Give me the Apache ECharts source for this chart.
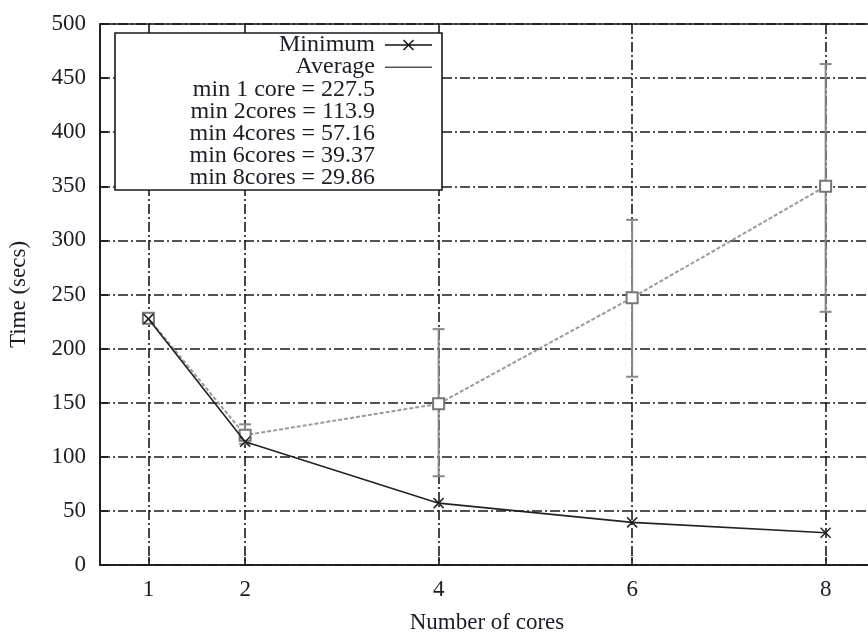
<!DOCTYPE html>
<html>
<head>
<meta charset="utf-8">
<script src="https://cdn.jsdelivr.net/npm/echarts@6/dist/echarts.min.js"></script>
<style>html,body{margin:0;padding:0;background:#fff;}#c{width:868px;height:635px;}</style>
</head>
<body>
<div id="c"></div>
<script>
// ---- data ----
const cores = [1, 2, 4, 6, 8];
const minimumTimes = [227.5, 113.9, 57.16, 39.37, 29.86];
const averageTimes = [228, 120, 149, 247, 350];
const averageLow = [225, 112, 82, 174, 234];
const averageHigh = [231, 130, 218, 319, 463];
const xTickValues = [1, 2, 4, 6, 8];
const legendLines = ['min 1 core = 227.5', 'min 2cores = 113.9', 'min 4cores = 57.16', 'min 6cores = 39.37', 'min 8cores = 29.86'];

const FONT = '"Liberation Serif", "DejaVu Serif", serif';
const TXT = '#1c1c28';
const gridDash = { color: '#1a1a1a', width: 1.6, type: [10, 3, 2, 3] };

const chart = echarts.init(document.getElementById('c'), null, { renderer: 'canvas' });

const legendX = 115, legendY = 33, legendW = 327, legendH = 157;
const textRight = 375, lineStep = 22.2, firstLine = 45;
const Z = 100;
const legendChildren = [
  { type: 'rect', z: Z, shape: { x: legendX, y: legendY, width: legendW, height: legendH },
    style: { fill: '#fff', stroke: '#1a1a1a', lineWidth: 1.6 } }
];
const allLegend = ['Minimum', 'Average'].concat(legendLines);
allLegend.forEach((t, i) => {
  legendChildren.push({ type: 'text', z: Z + 1, x: textRight, y: firstLine + i * lineStep,
    style: { text: t, font: '24px ' + FONT, fill: TXT, align: 'right', verticalAlign: 'middle' } });
});
// samples
const sx1 = 385, sx2 = 432, sm = (sx1 + sx2) / 2;
legendChildren.push({ type: 'line', z: Z + 1, shape: { x1: sx1, y1: firstLine, x2: sx2, y2: firstLine }, style: { stroke: '#111', lineWidth: 1.5 } });
legendChildren.push({ type: 'line', z: Z + 1, shape: { x1: sm - 5, y1: firstLine - 5, x2: sm + 5, y2: firstLine + 5 }, style: { stroke: '#111', lineWidth: 1.5 } });
legendChildren.push({ type: 'line', z: Z + 1, shape: { x1: sm - 5, y1: firstLine + 5, x2: sm + 5, y2: firstLine - 5 }, style: { stroke: '#111', lineWidth: 1.5 } });
legendChildren.push({ type: 'line', z: Z + 1, shape: { x1: sx1, y1: firstLine + lineStep, x2: sx2, y2: firstLine + lineStep }, style: { stroke: '#555', lineWidth: 1.5 } });

const option = {
  backgroundColor: '#fff',
  animation: false,
  grid: { left: 100, top: 24, right: -6, bottom: 70, outerBoundsMode: 'none', containLabel: false,
          show: true, borderColor: '#1a1a1a', borderWidth: 1.6, backgroundColor: 'transparent' },
  xAxis: {
    type: 'value', min: 0.5, max: 8.5,
    name: 'Number of cores', nameLocation: 'middle', nameGap: 46,
    nameTextStyle: { fontFamily: FONT, fontSize: 23, color: TXT },
    axisLine: { show: true, lineStyle: { color: '#1a1a1a', width: 1.6 } },
    axisTick: { show: true, inside: true, length: 8, customValues: xTickValues, lineStyle: { color: '#1a1a1a', width: 1.6 } },
    axisLabel: { customValues: xTickValues, fontFamily: FONT, fontSize: 23, color: TXT, margin: 13 },
    splitLine: { show: true, lineStyle: gridDash }
  },
  yAxis: {
    type: 'value', min: 0, max: 500, interval: 50,
    name: 'Time (secs)', nameLocation: 'middle', nameGap: 70, nameRotate: 90,
    nameTextStyle: { fontFamily: FONT, fontSize: 23, color: TXT },
    axisLine: { show: true, lineStyle: { color: '#1a1a1a', width: 1.6 } },
    axisTick: { show: true, inside: true, length: 8, lineStyle: { color: '#1a1a1a', width: 1.6 } },
    axisLabel: { fontFamily: FONT, fontSize: 23, color: TXT, margin: 14 },
    splitLine: { show: true, lineStyle: gridDash }
  },
  series: [
    {
      name: 'Average error', type: 'custom', z: 3,
      encode: { x: 0, y: [1, 2] },
      data: cores.map((c, i) => [c, averageLow[i], averageHigh[i]]),
      renderItem: function (params, api) {
        const lo = api.coord([api.value(0), api.value(1)]);
        const hi = api.coord([api.value(0), api.value(2)]);
        const w = 6;
        const st = { stroke: '#888', lineWidth: 2 };
        return { type: 'group', children: [
          { type: 'line', shape: { x1: lo[0], y1: lo[1], x2: hi[0], y2: hi[1] }, style: st },
          { type: 'line', shape: { x1: lo[0] - w, y1: lo[1], x2: lo[0] + w, y2: lo[1] }, style: st },
          { type: 'line', shape: { x1: hi[0] - w, y1: hi[1], x2: hi[0] + w, y2: hi[1] }, style: st }
        ] };
      }
    },
    {
      name: 'Average', type: 'line', z: 4,
      data: cores.map((c, i) => [c, averageTimes[i]]),
      symbol: 'emptyRect', symbolSize: 11,
      lineStyle: { color: '#9a9a9a', width: 2, type: [4, 2] },
      itemStyle: { color: '#777', borderColor: '#777', borderWidth: 1.5 }
    },
    {
      name: 'Minimum', type: 'line', z: 5,
      data: cores.map((c, i) => [c, minimumTimes[i]]),
      symbol: 'path://M0,0L10,10M10,0L0,10', symbolSize: 10,
      lineStyle: { color: '#222', width: 1.6 },
      itemStyle: { color: '#222', borderColor: '#222', borderWidth: 1.5 }
    }
  ],
  graphic: [{ type: 'group', z: Z, children: legendChildren }]
};
chart.setOption(option);
</script>
</body>
</html>
